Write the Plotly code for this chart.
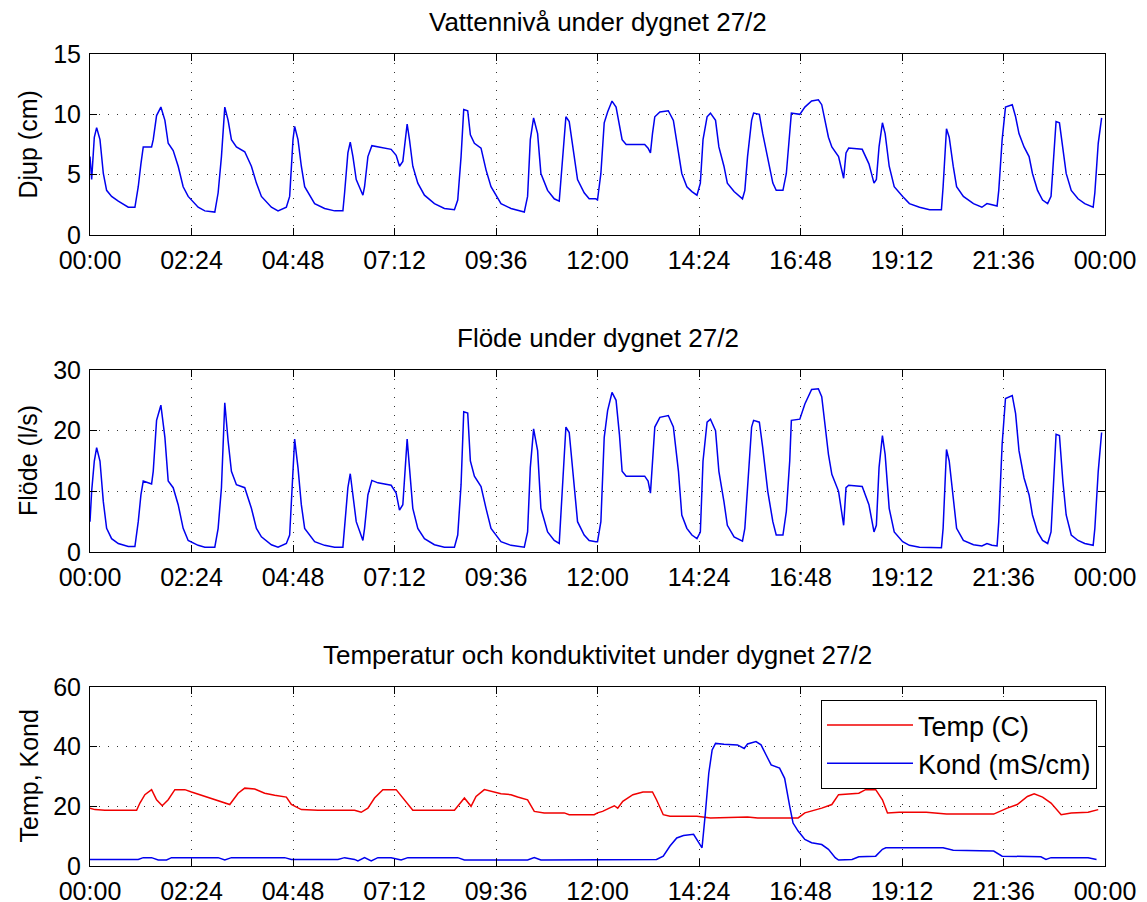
import plotly.graph_objects as go

# the page body adds an 8px margin, so the figure is drawn 8px smaller and
# all reference pixel positions are shifted by that offset
OFF = 8
W, H = 1147 - OFF, 902 - OFF
FONT = "Liberation Sans, Arial, sans-serif"

# ---------------- data (hours since 00:00) ----------------
t_hydro = [
    0, 0.039, 0.102, 0.157, 0.236, 0.315, 0.393, 0.511, 0.669, 0.905,
    1.062, 1.141, 1.204, 1.259, 1.456, 1.495, 1.574, 1.676, 1.771, 1.849,
    1.967, 2.085, 2.203, 2.321, 2.557, 2.715, 2.951, 3.030, 3.108, 3.187,
    3.266, 3.344, 3.462, 3.659, 3.816, 3.935, 4.053, 4.289, 4.446, 4.643,
    4.721, 4.800, 4.839, 4.918, 4.997, 5.076, 5.312, 5.548, 5.784, 5.980,
    6.020, 6.098, 6.154, 6.217, 6.295, 6.453, 6.492, 6.571, 6.665, 6.807,
    7.121, 7.239, 7.318, 7.397, 7.452, 7.499, 7.554, 7.633, 7.751, 7.908,
    8.144, 8.380, 8.617, 8.695, 8.774, 8.837, 8.931, 8.994, 9.089, 9.246,
    9.364, 9.482, 9.718, 9.954, 10.269, 10.347, 10.411, 10.489, 10.584, 10.662,
    10.820, 10.977, 11.095, 11.174, 11.253, 11.331, 11.449, 11.528, 11.685, 11.803,
    11.961,
    12.0, 12.080, 12.159, 12.239, 12.343, 12.439, 12.518, 12.582, 12.678, 13.116,
    13.196, 13.252, 13.300, 13.355, 13.475, 13.674, 13.794, 13.914, 13.993, 14.113,
    14.232, 14.352, 14.432, 14.495, 14.591, 14.671, 14.791, 14.870, 14.990, 15.070,
    15.229, 15.428, 15.484, 15.548, 15.644, 15.691, 15.827, 15.907, 16.026, 16.146,
    16.226, 16.385, 16.465, 16.545, 16.584, 16.784, 16.903, 17.063, 17.222, 17.302,
    17.382, 17.461, 17.541, 17.700, 17.820, 17.876, 17.940, 18.259, 18.418, 18.538,
    18.594, 18.657, 18.737, 18.801, 18.897, 19.016, 19.216, 19.375, 19.614, 19.853,
    20.132, 20.172, 20.252, 20.316, 20.411, 20.491, 20.651, 20.890, 21.089, 21.209,
    21.328, 21.448, 21.488, 21.568, 21.647, 21.807, 21.886, 21.966, 22.086, 22.205,
    22.285, 22.405, 22.524, 22.644, 22.724, 22.803, 22.843, 22.923, 23.003, 23.082,
    23.202, 23.362, 23.521, 23.720, 23.760, 23.840, 23.920,
]

djup_cm = [
    6.5, 4.6, 8.1, 8.9, 7.9, 5.1, 3.7, 3.2, 2.8, 2.3,
    2.3, 4.0, 5.9, 7.3, 7.3, 7.9, 9.9, 10.6, 9.5, 7.6,
    7.0, 5.7, 4.0, 3.2, 2.3, 2.0, 1.9, 3.5, 6.5, 10.6,
    9.5, 7.9, 7.3, 6.9, 5.7, 4.3, 3.2, 2.3, 2.0, 2.3,
    3.2, 7.9, 9.0, 7.9, 5.7, 4.0, 2.6, 2.2, 2.0, 2.0,
    3.5, 6.8, 7.7, 6.5, 4.6, 3.3, 4.0, 6.5, 7.4, 7.3,
    7.1, 6.6, 5.7, 6.1, 7.9, 9.2, 7.9, 5.7, 4.3, 3.3,
    2.6, 2.2, 2.1, 2.9, 6.5, 10.4, 10.3, 8.3, 7.6, 7.2,
    5.4, 4.0, 2.6, 2.2, 1.9, 3.2, 7.9, 9.7, 8.4, 5.1,
    3.7, 3.0, 2.8, 6.2, 9.8, 9.4, 6.5, 4.6, 3.5, 3.0,
    3.0,
    2.9, 5.1, 9.3, 10.2, 11.1, 10.6, 9.0, 7.9, 7.5, 7.5,
    7.2, 6.8, 8.4, 9.8, 10.2, 10.3, 9.5, 7.0, 5.1, 4.0,
    3.6, 3.3, 4.3, 7.9, 9.8, 10.1, 9.5, 7.3, 5.7, 4.3,
    3.6, 3.0, 3.7, 6.5, 9.5, 10.1, 10.0, 8.4, 6.2, 4.3,
    3.7, 3.7, 5.1, 8.1, 10.1, 10.0, 10.6, 11.1, 11.2, 10.8,
    9.5, 8.1, 7.3, 6.5, 4.7, 6.8, 7.2, 7.1, 5.9, 4.3,
    4.6, 7.3, 9.3, 8.4, 5.7, 4.0, 3.2, 2.6, 2.3, 2.1,
    2.1, 4.0, 8.8, 8.1, 5.7, 4.0, 3.2, 2.6, 2.3, 2.6,
    2.5, 2.4, 3.7, 7.9, 10.6, 10.8, 9.8, 8.4, 7.3, 6.5,
    5.1, 3.7, 2.9, 2.6, 3.2, 7.9, 9.4, 9.3, 7.0, 5.1,
    3.7, 3.0, 2.6, 2.3, 3.5, 7.6, 9.7,
]

flode_ls = [
    5.0, 10.0, 15.0, 17.2, 15.0, 8.3, 3.9, 2.2, 1.4, 0.9,
    0.9, 5.0, 9.4, 11.7, 11.2, 13.3, 21.7, 24.2, 18.9, 11.7,
    10.6, 7.8, 3.9, 1.9, 1.1, 0.8, 0.8, 3.9, 10.6, 24.6,
    18.3, 13.3, 11.1, 10.6, 7.2, 3.9, 2.5, 1.2, 0.8, 1.4,
    2.8, 15.0, 18.6, 13.9, 7.8, 3.9, 1.7, 1.1, 0.8, 0.8,
    3.9, 10.6, 12.9, 9.4, 5.0, 1.9, 3.9, 9.4, 11.8, 11.4,
    11.0, 9.7, 6.9, 7.8, 13.3, 18.6, 13.9, 7.2, 3.9, 2.2,
    1.2, 0.8, 0.8, 2.8, 11.1, 23.1, 22.9, 15.0, 12.5, 10.8,
    7.2, 3.9, 1.7, 1.1, 0.8, 3.3, 13.9, 20.3, 16.7, 7.2,
    3.3, 1.9, 1.4, 10.6, 20.6, 19.7, 10.6, 5.0, 2.8, 1.9,
    1.7,
    1.7, 5.0, 18.9, 23.3, 26.3, 25.0, 19.4, 13.3, 12.5, 12.5,
    11.7, 9.7, 15.6, 20.6, 22.2, 22.5, 20.6, 13.3, 6.1, 3.9,
    2.8, 2.2, 3.3, 15.0, 21.4, 21.9, 20.0, 13.3, 8.3, 4.4,
    2.5, 1.8, 3.9, 10.6, 20.6, 21.7, 21.4, 17.2, 10.0, 5.0,
    2.8, 2.8, 6.7, 15.0, 21.7, 21.9, 24.4, 26.8, 26.9, 25.6,
    20.6, 16.1, 12.8, 10.0, 4.4, 10.6, 11.0, 10.8, 7.8, 3.3,
    4.4, 13.9, 19.2, 16.1, 7.2, 3.3, 1.7, 1.1, 0.8, 0.7,
    0.7, 3.9, 16.9, 15.0, 8.3, 3.9, 1.9, 1.2, 1.0, 1.4,
    1.1, 1.0, 5.0, 17.8, 25.3, 25.8, 22.8, 16.7, 12.2, 9.4,
    6.1, 3.3, 1.9, 1.4, 3.3, 15.0, 19.4, 19.2, 11.7, 6.1,
    2.8, 1.9, 1.4, 1.1, 3.9, 13.3, 19.7,
]

t_temp = [
    0, 0.118, 0.354, 1.102, 1.180, 1.298, 1.456, 1.574, 1.708, 1.849,
    2.007, 2.243, 2.400, 2.715, 3.305, 3.502, 3.659, 3.895, 4.131, 4.367,
    4.643, 4.761, 4.997, 5.390, 6.256, 6.413, 6.571, 6.728, 6.925, 7.239,
    7.436, 7.633, 8.617, 8.774, 8.853, 9.010, 9.128, 9.325, 9.521, 9.718,
    9.954, 10.112, 10.347, 10.505, 10.741, 11.213, 11.331, 11.922,
    12.0, 12.120, 12.279, 12.399, 12.478, 12.598, 12.837, 13.076, 13.300, 13.395,
    13.555, 13.714, 14.352, 14.671, 15.548, 15.787, 16.744, 16.903, 17.302, 17.541,
    17.700, 18.179, 18.338, 18.578, 18.737, 18.857, 19.136, 19.774, 20.252, 21.368,
    21.687, 21.926, 22.165, 22.325, 22.524, 22.724, 22.963, 23.202, 23.601, 23.840,
]
temp_c = [
    19.4, 18.9, 18.7, 18.7, 21.1, 23.9, 25.6, 22.2, 20.2, 22.2,
    25.6, 25.6, 24.8, 23.3, 20.6, 24.4, 26.1, 25.8, 24.4, 23.7,
    23.1, 20.6, 18.9, 18.7, 18.7, 18.0, 19.4, 22.8, 25.6, 25.6,
    22.2, 18.7, 18.7, 21.7, 22.8, 20.0, 23.3, 25.6, 24.8, 24.2,
    23.9, 23.1, 22.2, 18.3, 17.8, 17.8, 17.2, 17.2,
    17.8, 18.3, 19.4, 20.2, 19.4, 21.7, 23.9, 24.8, 24.8, 22.2,
    17.2, 16.7, 16.7, 16.1, 16.4, 16.1, 16.1, 17.8, 19.4, 20.6,
    23.9, 24.4, 25.6, 25.6, 22.2, 17.8, 18.0, 18.0, 17.4, 17.4,
    19.4, 20.6, 23.3, 24.2, 23.1, 21.1, 17.2, 17.8, 18.0, 18.9,
]

t_kond = [
    0, 1.141, 1.259, 1.456, 1.613, 1.810, 1.928, 3.030, 3.187, 3.344,
    4.603, 4.761, 5.863, 6.020, 6.256, 6.335, 6.492, 6.649, 6.807, 7.121,
    7.357, 7.515, 8.695, 8.853, 10.347, 10.505, 10.662, 11.922,
    12.0, 13.236, 13.395, 13.555, 13.714, 13.874, 14.033, 14.272, 14.352, 14.472,
    14.551, 14.631, 14.711, 14.791, 14.990, 15.309, 15.468, 15.548, 15.747, 15.867,
    15.987, 16.106, 16.305, 16.425, 16.545, 16.624, 16.744, 16.903, 17.063, 17.302,
    17.461, 17.621, 17.700, 18.019, 18.179, 18.578, 18.737, 18.817, 20.172, 20.411,
    21.368, 21.568, 22.484, 22.604, 22.724, 23.601, 23.800,
]
kond_mscm = [
    2.2, 2.2, 2.8, 2.8, 2.0, 2.0, 2.8, 2.8, 2.0, 2.8,
    2.8, 2.2, 2.2, 2.8, 2.2, 1.7, 2.8, 1.7, 2.8, 2.8,
    2.0, 2.8, 2.8, 2.0, 2.0, 2.8, 2.0, 2.0,
    2.0, 2.0, 2.2, 3.3, 6.7, 9.4, 10.2, 10.6, 8.9, 6.1,
    17.8, 31.1, 38.9, 41.1, 40.8, 40.6, 39.4, 40.9, 41.7, 40.6,
    37.2, 33.9, 32.8, 29.4, 20.0, 14.4, 11.7, 8.9, 7.8, 7.2,
    5.6, 2.8, 2.0, 2.2, 3.1, 3.3, 5.6, 6.1, 6.1, 5.3,
    5.0, 3.3, 3.1, 2.2, 2.8, 2.8, 2.2,
]

tick_hours = [0, 2.4, 4.8, 7.2, 9.6, 12.0, 14.4, 16.8, 19.2, 21.6, 24.0]
tick_labels = ["00:00", "02:24", "04:48", "07:12", "09:36", "12:00",
               "14:24", "16:48", "19:12", "21:36", "00:00"]

titles = ["Vattennivå under dygnet 27/2",
          "Flöde under dygnet 27/2",
          "Temperatur och konduktivitet under dygnet 27/2"]
ylabels = ["Djup (cm)", "Flöde (l/s)", "Temp, Kond"]
y_ranges = [[0, 15], [0, 30], [0, 60]]
y_dticks = [5, 10, 20]

# ---------------- layout geometry (reference pixels) ----------------
X0, X1 = 90, 1105
panels_px = [(54, 235), (370, 552), (687, 866)]


def fx(x):
    return (x - OFF) / W


def fy(y):
    return 1 - (y - OFF) / H


BLUE = "#0000ee"
RED = "#f00000"
LW = 1.5

fig = go.Figure()
fig.add_trace(go.Scatter(x=t_hydro, y=djup_cm, mode="lines", xaxis="x", yaxis="y",
                         line=dict(color=BLUE, width=LW), showlegend=False))
fig.add_trace(go.Scatter(x=t_hydro, y=flode_ls, mode="lines", xaxis="x2", yaxis="y2",
                         line=dict(color=BLUE, width=LW), showlegend=False))
fig.add_trace(go.Scatter(x=t_temp, y=temp_c, mode="lines", xaxis="x3", yaxis="y3",
                         name="Temp (C)", line=dict(color=RED, width=LW)))
fig.add_trace(go.Scatter(x=t_kond, y=kond_mscm, mode="lines", xaxis="x3", yaxis="y3",
                         name="Kond (mS/cm)", line=dict(color=BLUE, width=LW)))

common = dict(showline=True, linecolor="black", linewidth=1, mirror="ticks",
              ticks="inside", ticklen=7, tickcolor="black", tickwidth=1,
              showgrid=True, gridcolor="#333333", gridwidth=1, griddash="1px,8px",
              zeroline=False, automargin=False, ticklabelstandoff=3,
              tickfont=dict(family=FONT, size=25, color="black"))

layout = {}
annotations = []
for i, (top, bot) in enumerate(panels_px):
    sfx = "" if i == 0 else str(i + 1)
    layout["xaxis" + sfx] = dict(domain=[fx(X0), fx(X1)], anchor="y" + sfx,
                                 range=[0, 24], tickmode="array",
                                 tickvals=tick_hours, ticktext=tick_labels, **common)
    layout["yaxis" + sfx] = dict(domain=[fy(bot), fy(top)], anchor="x" + sfx,
                                 range=y_ranges[i], dtick=y_dticks[i], tick0=0, **common)
    annotations.append(dict(text=titles[i], x=fx((X0 + X1) / 2), y=fy(top - 32),
                            xref="paper", yref="paper", showarrow=False,
                            xanchor="center", yanchor="middle",
                            font=dict(family=FONT, size=26, color="black")))
    annotations.append(dict(text=ylabels[i], x=fx(28), y=fy((top + bot) / 2),
                            xref="paper", yref="paper", showarrow=False,
                            textangle=-90, xanchor="center", yanchor="middle",
                            font=dict(family=FONT, size=25, color="black")))

fig.update_layout(
    width=W, height=H,
    margin=dict(l=0, r=0, t=0, b=0, pad=0, autoexpand=False),
    paper_bgcolor="white", plot_bgcolor="white",
    annotations=annotations,
    legend=dict(x=fx(1097), y=fy(700), xanchor="right", yanchor="top",
                bgcolor="white", bordercolor="black", borderwidth=1,
                font=dict(family=FONT, size=27, color="black"),
                itemwidth=86, tracegroupgap=0),
    **layout,
)

fig.write_html("out.html")
